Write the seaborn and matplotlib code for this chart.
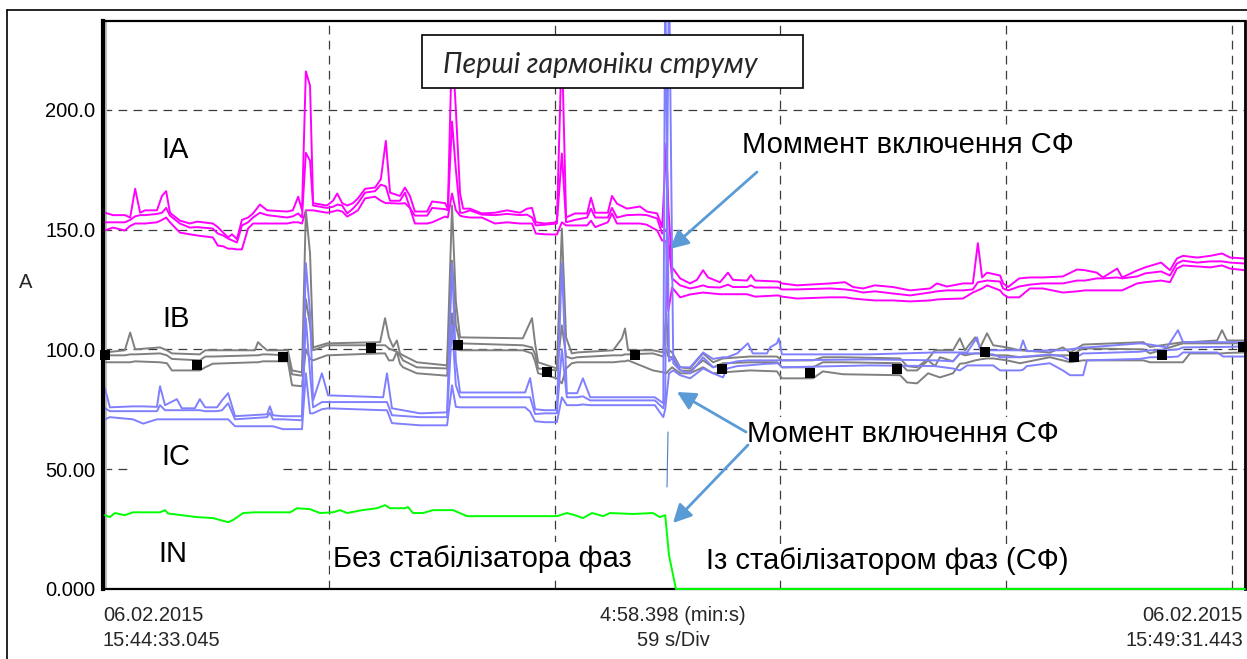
import matplotlib
matplotlib.use("Agg")
import matplotlib.pyplot as plt
from matplotlib.patches import Rectangle
from matplotlib.lines import Line2D
import seaborn as sns

# ---------------- data: first-harmonic currents, A ----------------
# Phase A (max / mean / min envelopes), time in seconds from 15:44:33.045
ia_t = [0.5, 2.6, 5.7, 7.1, 8.4, 9.7, 11.0, 14.1, 15.4, 16.5, 17.5, 20.1, 22.7, 24.6,
        28.7, 30.0, 31.4, 32.7, 33.7, 35.0, 36.3, 37.9, 39.2, 41.0, 42.9, 48.1, 49.6,
        51.0, 52.0, 53.0, 54.1, 54.9, 58.5, 60.1, 61.2, 62.5, 63.8, 65.3, 66.6, 68.5,
        71.1, 72.6, 73.9, 75.0, 77.6, 78.9, 80.2, 81.5, 84.7, 86.0, 89.4, 90.1, 91.2,
        92.2, 93.3, 94.1, 95.9, 99.0, 102.4, 105.6, 109.0, 110.8, 112.1, 113.1, 115.5,
        118.6, 119.9, 121.0, 123.3, 126.5, 127.5, 128.6, 131.9, 133.0, 134.3, 136.9,
        140.3, 142.1, 144.8, 146.1, 147.2, 147.7, 148.7, 150.8, 153.4, 155.2, 156.8,
        158.1, 161.2, 163.3, 164.6, 168.3, 169.3, 170.4, 176.4, 177.4, 181.3, 190.0,
        193.9, 196.0, 198.6, 201.7, 206.4, 210.9, 216.1, 217.9, 220.5, 224.7, 227.3,
        228.6, 229.7, 231.0, 234.4, 235.2, 236.5, 239.4, 242.2, 245.6, 250.8, 254.5,
        256.6, 259.7, 261.3, 265.0, 266.3, 270.2, 272.3, 276.5, 278.8, 280.6, 282.2,
        285.9, 289.3, 292.4, 294.5, 298.4]
ia_max = [157, 156, 156, 155, 167, 157, 158, 158, 164, 166, 157, 153.7, 152.5, 153.3,
          152.5, 151, 148.7, 146.7, 148, 146, 154, 155, 156.7, 160.4, 158, 157.5, 158,
          163.7, 158, 216, 210, 161, 160, 162, 165, 161, 160, 161, 163, 167,
          167.5, 171, 187, 165.4, 164, 167.5, 164, 157.5, 157.5, 161.7, 161, 158.7, 228,
          200, 165, 158.7, 158.7, 156.7, 157, 158, 157, 158.7, 159, 153, 152.5,
          153, 228, 155, 156.7, 156.7, 163.3, 157, 157, 164, 160.8, 158.7,
          159.6, 157.5, 156.7, 151, 186, 160, 134.2, 129.6, 127.5, 129, 133,
          130, 128, 132, 129, 128.7, 131, 128.7, 128.3, 127.5, 126.7, 127.5,
          128, 126, 125.4, 126.7, 126, 124.6, 125.4, 127.5, 126.2, 127.5, 127.5,
          144.3, 130, 132, 130.8, 127.5, 126, 129.6, 130, 130, 130.4, 133.3,
          133, 132, 130, 133.7, 130, 132.9, 134.2, 136.2, 133, 137.9, 139,
          138.3, 139, 140, 138.3, 137.9]
ia_avg = [153, 153, 153, 154, 155.5, 156, 156, 156.5, 157, 159, 155.8, 152.5, 150.8, 151,
          150.4, 148.3, 147.5, 146.2, 145.5, 144.6, 151.7, 153, 155, 157, 156, 155, 155.5,
          156.7, 155, 182, 178.7, 160, 159, 159.5, 160.4, 160, 156.7, 158.7, 161, 165.4,
          166, 168.7, 168, 162, 162, 165.4, 159, 155.8, 155.8, 159, 158.5, 158, 195,
          175, 157, 157, 158, 156.2, 156, 156.5, 156, 156.2, 155, 151.7, 152,
          152.5, 181.7, 153, 154, 155, 158.7, 155, 155, 159, 155, 156,
          156.2, 156, 154.6, 148.3, 150, 146, 129.6, 126.7, 125.4, 126, 126.7,
          126, 125.8, 127, 126, 126, 126.7, 125.8, 125.8, 125, 125, 125.4,
          125, 124.6, 123.7, 124.2, 123.3, 122.5, 123.7, 124.2, 124.6, 124.6, 125,
          128, 128.3, 128.7, 128.3, 125.4, 124.6, 126.2, 127, 127.5, 127.5, 128.7,
          128.7, 129.6, 129.6, 130, 129.6, 130.4, 131.7, 132.5, 130.8, 135.8, 137,
          136.2, 136.7, 136.7, 136.2, 135.8]
ia_min = [149.6, 150.8, 149.6, 151.5, 152.5, 152.5, 152.5, 153, 154, 155, 153, 148.7, 148, 147.5,
          146.7, 143.3, 143, 142, 142, 141.7, 141.7, 150.4, 152.5, 152.5, 152.5, 152.5, 153,
          153, 152.5, 158, 158, 158, 157, 157.5, 158, 157.5, 155.4, 156.7, 158, 163,
          163.7, 162, 161, 161, 160.8, 161, 159, 152.5, 152.5, 153, 155.4, 155, 165,
          158, 155.8, 155.4, 155, 155, 152.5, 153, 152.5, 152.5, 152.5, 148.3, 148,
          147.9, 153, 151.7, 151.7, 151.7, 153.7, 151, 153, 156.7, 152.5, 152.5,
          152.5, 152, 149.6, 145.4, 145, 116, 125.8, 121.7, 122.9, 123.3, 123.7,
          123.5, 123, 123, 123, 123, 122.5, 122, 122.5, 122, 121.2, 121.7,
          121.7, 121.2, 120.8, 120.4, 120.4, 120, 120.4, 120.8, 121, 121.2, 123.7,
          124.6, 125.4, 126.7, 124.6, 123, 121.7, 121.7, 125.4, 125.4, 123.7, 124.2,
          124.6, 124.6, 124.6, 124.6, 124.6, 127.5, 128, 128.7, 128, 133.7, 135,
          134.6, 134.2, 135, 133.7, 133]

# Phase B
ib_t = [0.5, 5.7, 7.1, 8.4, 14.9, 16.7, 18.0, 25.3, 26.7, 28.7, 39.7, 40.5, 41.8, 42.9,
        48.3, 49.4, 52.0, 53.0, 54.1, 54.9, 58.5, 72.4, 73.7, 74.7, 75.8, 76.8, 77.6,
        78.4, 82.0, 89.9, 91.2, 92.2, 93.3, 109.7, 112.1, 112.9, 113.7, 118.6, 119.9,
        121.0, 122.5, 123.9, 133.3, 135.6, 136.4, 137.2, 143.7, 146.4, 147.2, 147.7,
        148.7, 150.8, 153.4, 156.8, 159.4, 162.0, 169.1, 176.1, 177.4, 185.5, 188.1,
        193.4, 208.3, 210.1, 212.7, 215.6, 217.4, 218.7, 222.1, 223.9, 225.2, 227.9,
        229.2, 231.0, 232.6, 236.2, 239.6, 247.4, 250.8, 252.7, 256.1, 271.8, 273.6,
        282.2, 284.0, 291.1, 292.4, 293.7, 298.4]
ib_max = [98.7, 99.6, 107, 100, 100.8, 99.6, 98.3, 97.9, 99.6, 99.6, 99.6, 103, 101, 99.6,
          99.6, 91.2, 90.4, 158, 140, 100.8, 102.5, 103, 113, 105, 101, 103.7, 98.3,
          97.5, 94.6, 93.3, 160, 120, 105, 104.6, 113, 102.5, 94.6, 92, 150.4,
          105, 98.3, 98.7, 99.6, 104.6, 108.7, 99.6, 99.6, 98.7, 115, 100,
          98.7, 92.5, 92, 98.3, 94.6, 96.2, 97, 97, 95.4, 95.4, 96.7,
          96.7, 96.2, 93, 92.5, 96, 99.6, 99.6, 99.6, 104.6, 99.6, 105,
          100.8, 106.7, 101.7, 100.8, 99.6, 98.7, 100.8, 98.7, 102, 103, 101,
          103, 103, 103.7, 108, 103.7, 103.7]
ib_avg = [97.5, 97.5, 97.9, 97.9, 98.3, 97.5, 96, 95.4, 97, 97, 97.5, 97.5, 97.9, 97.9,
          97.5, 89.6, 89, 121, 110, 99.6, 101.7, 101.7, 101.7, 100.4, 99.6, 99, 97.5,
          95.4, 92.5, 92, 137, 110, 102.5, 101.7, 100.8, 98, 92, 91.2, 110,
          97, 96.2, 96.7, 97.5, 97.5, 97.9, 97.9, 98.3, 97, 100, 97,
          96.7, 91.2, 91, 95.4, 92.5, 94.2, 94.6, 94.6, 92.5, 92.5, 94.6,
          94.6, 94.2, 91.2, 91.2, 95.4, 93, 96.7, 95, 98.3, 97.5, 98.3,
          98.3, 97.9, 97.5, 97.5, 96.7, 97.5, 97.5, 97.5, 100.4, 100, 98.3,
          102.5, 102.5, 102.5, 102.5, 102.5, 102.5]
ib_min = [94.6, 94.6, 94.6, 95, 94.6, 94.2, 91.2, 91.2, 92.5, 94, 94.6, 94.6, 95, 95,
          95, 85, 84.6, 100, 96, 95.4, 97.5, 98.3, 98.3, 95.4, 95.4, 99, 94,
          92.5, 90, 89, 115, 100, 99.6, 99.6, 98.3, 95, 90, 87.9, 85.8,
          92, 94.2, 94.6, 94.6, 95, 95, 95.4, 91.2, 90.4, 90, 91,
          92.5, 90, 90, 92.5, 90, 90.4, 91.2, 90.8, 87.9, 87.9, 90.8,
          89.6, 89.2, 86.2, 85.8, 90, 89, 88.3, 90, 94, 94.2, 95.4,
          95.8, 96.2, 96.2, 95.4, 94.2, 96.7, 95.4, 94.6, 95.4, 95.4, 94.6,
          94.6, 98.3, 98.3, 98.3, 98.5, 98.7]
# Phase B cursor marks
ib_mark_t = [0.5, 24.6, 47.0, 70.0, 92.8, 116.0, 139.0, 161.7, 184.7, 207.5, 230.5,
             253.7, 276.7, 297.9]
ib_mark_v = [97.5, 93.3, 97, 100.4, 102, 90.4, 97.5, 92, 90, 92, 98.7, 97, 97.5, 101]

# Phase C
ic_t = [0.5, 1.8, 7.8, 10.5, 14.1, 14.9, 16.2, 19.3, 20.6, 24.0, 25.3, 26.7, 29.8, 31.1,
        32.7, 34.5, 42.9, 43.6, 44.4, 47.0, 52.0, 53.0, 54.1, 54.9, 57.2, 58.8, 73.2,
        74.2, 75.5, 82.8, 89.9, 91.2, 92.2, 93.3, 110.3, 111.6, 112.9, 115.5, 118.6,
        119.9, 121.2, 123.9, 125.4, 127.3, 144.2, 146.4, 146.9, 147.9, 149.0, 150.8,
        153.4, 156.8, 159.4, 162.0, 163.1, 165.7, 168.5, 169.8, 173.5, 174.3, 176.1,
        176.6, 177.4, 200.4, 217.4, 222.1, 223.9, 225.8, 228.4, 229.2, 232.6, 234.4,
        239.6, 240.4, 241.4, 247.4, 250.8, 252.7, 256.1, 257.1, 271.0, 273.6, 278.0,
        280.9, 282.2, 291.1, 292.7, 298.4]
ic_max = [83.7, 75.8, 76.2, 76.2, 76, 84.6, 76.7, 79.2, 75.4, 75.4, 79.2, 75.8, 75.8, 78.7,
          81.7, 72.1, 72.9, 76.2, 72.5, 72.1, 72.1, 136, 115, 78.7, 90, 80.8, 80,
          90, 75.4, 73.3, 73.7, 136, 95, 82, 82, 88, 75, 74.6, 74.6,
          136, 81.7, 81.7, 87.9, 80, 80, 77.5, 260, 95, 96.7, 92.5,
          92.5, 98.7, 96, 96.7, 96.7, 98.3, 102.5, 98.3, 98.3, 100.8, 102.5,
          104.6, 97.9, 97.9, 98.7, 98.7, 98.7, 98.7, 105, 99.6, 99.6, 99.6,
          99.6, 103.7, 99.2, 99.6, 99.6, 100, 100.8, 100.8, 102.5, 102, 100.8,
          108, 103, 103, 103, 103]
ic_avg = [75.4, 74.2, 74.2, 74.2, 74.2, 76.7, 74.6, 74.6, 74.6, 74.6, 74.6, 74.2, 74.2, 74.6,
          77.5, 70.8, 71.7, 73.5, 70.8, 70.8, 70.4, 113, 90, 75.8, 78, 78, 78,
          78, 72.5, 71.7, 71.7, 110, 85, 80, 80, 80, 73, 73.3, 73.3,
          100, 80, 80, 80.4, 78.7, 78.7, 75.4, 80, 260, 94.2, 91.2,
          90, 96.7, 92.5, 93.5, 94, 95, 95.4, 95.4, 95.4, 95.4, 95.4,
          95.4, 95.4, 95.8, 95.4, 95, 98.3, 98.3, 98.3, 98.3, 97.9, 96.7,
          96.7, 97, 97, 97.9, 97, 95.4, 98.3, 98.3, 99, 99.6, 99.6,
          100, 100.8, 101, 101, 101.2]
ic_min = [70.8, 71.7, 70.8, 69, 70.8, 70.8, 70.8, 70.8, 70.8, 70.8, 70.8, 70.8, 70.8, 70.8,
          70.8, 67.9, 67.9, 67.9, 67.9, 66.7, 66.7, 90, 73.3, 73.3, 75, 75.4, 74.6,
          74.6, 69.2, 68.3, 68.3, 85, 76, 75.8, 75.8, 74, 70, 69.6, 69.6,
          80, 76.7, 76.7, 77, 76.7, 76.7, 71.7, 75, 90, 91.2, 89.2,
          87.9, 92, 90, 88.3, 92, 93, 93.3, 93.5, 94, 94, 94.2,
          94.2, 92.5, 93.3, 93, 92, 91.2, 93.3, 93.3, 93.3, 93.3, 91.2,
          91.2, 91.5, 93, 94.2, 91.2, 89.2, 89.2, 95.4, 96, 96.7, 96.7,
          97, 98.7, 98.7, 97, 97]

# Neutral
in_t = [0.5, 1.8, 3.1, 5.7, 7.8, 14.9, 16.2, 17.0, 24.6, 28.7, 32.7, 34.0, 36.6, 39.7,
        48.9, 50.7, 54.1, 56.7, 60.1, 61.9, 63.8, 67.7, 71.6, 73.7, 75.0, 78.9, 79.7,
        81.0, 83.6, 86.2, 91.5, 95.1, 118.6, 121.2, 123.3, 125.4, 127.8, 130.7, 132.5,
        138.5, 143.7, 145.5, 146.9, 147.9, 149.7, 298.4]
in_val = [30.8, 30, 31.7, 30.8, 32, 32, 32.9, 31.5, 30, 29.6, 27.9, 28.8, 31.7, 32,
          32, 33.7, 33.3, 31.7, 32, 32.9, 31.7, 32.9, 33.7, 35, 33.7, 33.7, 34.2,
          31.7, 31.7, 32.9, 32.9, 30.4, 30.4, 31.7, 30.8, 29.6, 31.7, 30.4, 31.7,
          31.3, 31.7, 30, 30.8, 14, 0, 0]

# axis labelling
y_ticks = [0, 50, 100, 150, 200]
y_tick_labels = ["0.000", "50.00", "100.0", "150.0", "200.0"]
x_div = [59, 118, 177, 236, 295]
t_span = 298.4

# ---------------- figure ----------------
sns.set_theme(style="white")
plt.rcParams['font.family'] = ['Liberation Sans', 'DejaVu Sans']

W, H = 1247, 659
L, R, T, B = 103, 1245, 21, 589
fig = plt.figure(figsize=(W / 100, H / 100), dpi=100)
ax = fig.add_axes([L / W, 1 - B / H, (R - L) / W, (B - T) / H])


def axx(px):
    return (px - L) / (R - L)


def axy(py):
    return (B - py) / (B - T)


MAG, GRAY, BLUE, GREEN = "#FF00FF", "#808080", "#8080FF", "#00FF00"
LW = 1.4

for vals in (ia_max, ia_avg, ia_min):
    sns.lineplot(x=ia_t, y=vals, ax=ax, color=MAG, linewidth=LW,
                 estimator=None, sort=False, zorder=2)
for vals in (ib_max, ib_avg, ib_min):
    sns.lineplot(x=ib_t, y=vals, ax=ax, color=GRAY, linewidth=LW,
                 estimator=None, sort=False, zorder=2.1)
for vals in (ic_max, ic_avg, ic_min):
    sns.lineplot(x=ic_t, y=vals, ax=ax, color=BLUE, linewidth=LW,
                 estimator=None, sort=False, zorder=2.2)
sns.lineplot(x=in_t, y=in_val, ax=ax, color=GREEN, linewidth=LW,
             estimator=None, sort=False, zorder=3.5, clip_on=False)
sns.scatterplot(x=ib_mark_t, y=ib_mark_v, ax=ax, marker="s", s=42, color="black",
                linewidth=0, zorder=3.6, clip_on=False)

ax.set_xlim(0, t_span)
ax.set_ylim(0, 237)
ax.set_xticks(x_div)
ax.set_xticklabels([])
ax.set_yticks(y_ticks)
ax.set_yticklabels(y_tick_labels)
ax.set_xlabel("")
ax.set_ylabel("")
ax.tick_params(axis="both", length=0)
ax.tick_params(axis="y", pad=5.5, labelsize=14.5, labelcolor="black")
ax.grid(True, color="#3c3c3c", linestyle=(0, (7, 5)), linewidth=0.9)
ax.set_axisbelow(True)

for side, lw in (("left", 3.0), ("top", 1.6), ("right", 2.0), ("bottom", 1.6)):
    ax.spines[side].set_visible(True)
    ax.spines[side].set_color("black")
    ax.spines[side].set_linewidth(lw)

# grey stripe along the value axis
ax.add_patch(Rectangle((0, 0), 4 / (R - L), 1, transform=ax.transAxes,
                       facecolor="#C0C0C0", edgecolor="none", zorder=1.5))
# white backing behind the IC caption
ax.add_patch(Rectangle((axx(132), axy(484)), (283 - 132) / (R - L), 44 / (B - T),
                       transform=ax.transAxes, facecolor="white", edgecolor="none",
                       zorder=1))

# title box
ax.add_patch(Rectangle((axx(422), axy(88)), (803 - 422) / (R - L), 53 / (B - T),
                       transform=ax.transAxes, facecolor="white", edgecolor="black",
                       linewidth=1.2, zorder=4.8))
ax.text(axx(443), axy(73), "Перші гармоніки струму", transform=ax.transAxes,
        family=["Lato", "DejaVu Sans"], style="italic", fontsize=20.5,
        ha="left", va="baseline", zorder=4.9)

box = dict(boxstyle="square,pad=0.1", facecolor="white", edgecolor="none")
captions = [
    ("IA", 161, 158), ("IB", 162, 327), ("IC", 161, 465), ("IN", 158, 562),
    ("Моммент включення СФ", 742, 153),
    ("Момент включення СФ", 747, 442),
    ("Без стабілізатора фаз", 333, 567),
    ("Із стабілізатором фаз (СФ)", 706, 569),
]
for txt, px, py in captions:
    ax.text(axx(px), axy(py), txt, transform=ax.transAxes, fontsize=21,
            ha="left", va="baseline", color="black", bbox=box, zorder=5)

# pointer arrows
ARROW = "#5B9BD5"
for (tx, ty), (hx, hy) in (((757, 172), (670, 249)),
                           ((746, 432), (677, 392)),
                           ((748, 445), (673, 523))):
    ax.annotate("", xy=(axx(hx), axy(hy)), xytext=(axx(tx), axy(ty)),
                xycoords="axes fraction", textcoords="axes fraction",
                arrowprops=dict(arrowstyle="-|>,head_length=0.55,head_width=0.28",
                                color=ARROW, lw=2.0, mutation_scale=20,
                                shrinkA=0, shrinkB=0), zorder=6)
ax.plot([axx(668), axx(667)], [axy(432), axy(487)], transform=ax.transAxes,
        color="#4F7FC0", linewidth=0.8, zorder=6)

# outer frame
fig.add_artist(Line2D([7 / W, 1], [1 - 10 / H, 1 - 10 / H], transform=fig.transFigure,
                      color="black", linewidth=1.2))
fig.add_artist(Line2D([7 / W, 7 / W], [0, 1 - 10 / H], transform=fig.transFigure,
                      color="black", linewidth=1.2))

# unit label and time annotations
fig.text(26 / W, 1 - 283 / H, "A", ha="center", va="center", fontsize=14.5)
fs = 14.5
fig.text(103 / W, 1 - 621 / H, "06.02.2015", ha="left", va="baseline", fontsize=fs)
fig.text(103 / W, 1 - 646 / H, "15:44:33.045", ha="left", va="baseline", fontsize=fs)
fig.text(673 / W, 1 - 621 / H, "4:58.398 (min:s)", ha="center", va="baseline", fontsize=fs)
fig.text(673 / W, 1 - 646 / H, "59 s/Div", ha="center", va="baseline", fontsize=fs)
fig.text(1243 / W, 1 - 621 / H, "06.02.2015", ha="right", va="baseline", fontsize=fs)
fig.text(1243 / W, 1 - 646 / H, "15:49:31.443", ha="right", va="baseline", fontsize=fs)

fig.savefig("out.png", dpi=100)
